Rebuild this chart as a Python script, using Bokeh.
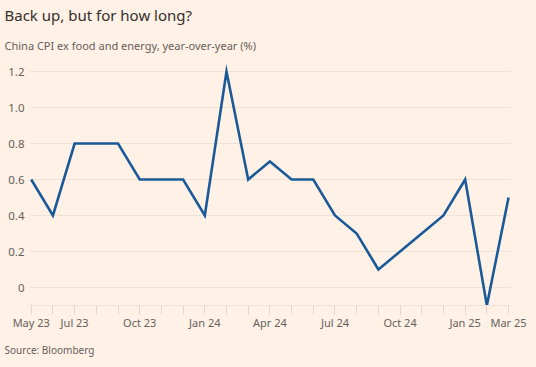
from bokeh.plotting import figure
from bokeh.models import Range1d, FixedTicker, Title
from bokeh.embed import file_html
from bokeh.resources import INLINE

# ---- data ----
months = ["May 23", "Jun 23", "Jul 23", "Aug 23", "Sep 23", "Oct 23", "Nov 23", "Dec 23",
          "Jan 24", "Feb 24", "Mar 24", "Apr 24", "May 24", "Jun 24", "Jul 24", "Aug 24",
          "Sep 24", "Oct 24", "Nov 24", "Dec 24", "Jan 25", "Feb 25", "Mar 25"]
cpi = [0.6, 0.4, 0.8, 0.8, 0.8, 0.6, 0.6, 0.6,
       0.4, 1.2, 0.6, 0.7, 0.6, 0.6, 0.4, 0.3,
       0.1, 0.2, 0.3, 0.4, 0.6, -0.1, 0.5]
shown_months = ["May 23", "Jul 23", "Oct 23", "Jan 24", "Apr 24", "Jul 24", "Oct 24", "Jan 25", "Mar 25"]
y_ticks = [0, 0.2, 0.4, 0.6, 0.8, 1.0, 1.2]
y_tick_labels = ["0", "0.2", "0.4", "0.6", "0.8", "1.0", "1.2"]

title_text = "Back up, but for how long?"
subtitle_text = "China CPI ex food and energy, year-over-year (%)"
source_text = "Source: Bloomberg"

BG = "#FFF1E5"
LINE = "#1B5A98"
GREY = "#66605C"
DARK = "#33302E"
GRID = "#EFE2D6"
TICK = "#E3D6CA"
FONT = "Noto Sans"

x_idx = list(range(len(months)))

p = figure(width=536, height=367, output_backend="svg", toolbar_location=None,
           x_range=Range1d(-0.08, 22.09), y_range=Range1d(-0.1, 1.25),
           min_border_left=29, min_border_right=26, min_border_top=62, min_border_bottom=62)
p.background_fill_color = BG
p.border_fill_color = BG
p.outline_line_color = None

p.line(x_idx, cpi, line_color=LINE, line_width=2.6, line_join="miter")

# x axis
xa = p.xaxis[0]
major = [months.index(m) for m in shown_months]
xa.ticker = FixedTicker(ticks=major, minor_ticks=x_idx)
xa.major_label_overrides = {i: months[i] for i in major}
xa.axis_line_color = GRID
xa.major_tick_line_color = TICK
xa.minor_tick_line_color = TICK
xa.major_tick_in = 0
xa.major_tick_out = 9
xa.minor_tick_in = 0
xa.minor_tick_out = 9
xa.major_label_standoff = 0
xa.major_label_text_font = FONT
xa.major_label_text_font_size = "11px"
xa.major_label_text_color = GREY

# y axis
ya = p.yaxis[0]
ya.ticker = FixedTicker(ticks=y_ticks)
ya.major_label_overrides = {t: l for t, l in zip(y_ticks, y_tick_labels)}
ya.axis_line_color = None
ya.major_tick_line_color = None
ya.minor_tick_line_color = None
ya.major_tick_out = 0
ya.major_label_standoff = 5
ya.major_label_text_font = FONT
ya.major_label_text_font_size = "11.5px"
ya.major_label_text_color = GREY

p.xgrid.grid_line_color = None
p.ygrid.grid_line_color = GRID
p.ygrid.grid_line_width = 1

# titles (first added = closest to the frame)
p.add_layout(Title(text=subtitle_text, text_font=FONT, text_font_size="11px",
                   text_font_style="normal", text_color=GREY, align="left",
                   vertical_align="top", offset=-25, standoff=16), "above")
p.add_layout(Title(text=title_text, text_font=FONT, text_font_size="15px",
                   text_font_style="normal", text_color=DARK, align="left",
                   vertical_align="top", offset=-25, standoff=6), "above")
p.add_layout(Title(text=source_text, text_font=FONT, text_font_size="10px",
                   text_font_style="normal", text_color=GREY, align="left",
                   vertical_align="bottom", offset=-25, standoff=17), "below")

html = file_html(p, INLINE).replace("<head>", "<head><style>html,body{background-color:#FFF1E5;}</style>", 1)
open("out.html", "w").write(html)
